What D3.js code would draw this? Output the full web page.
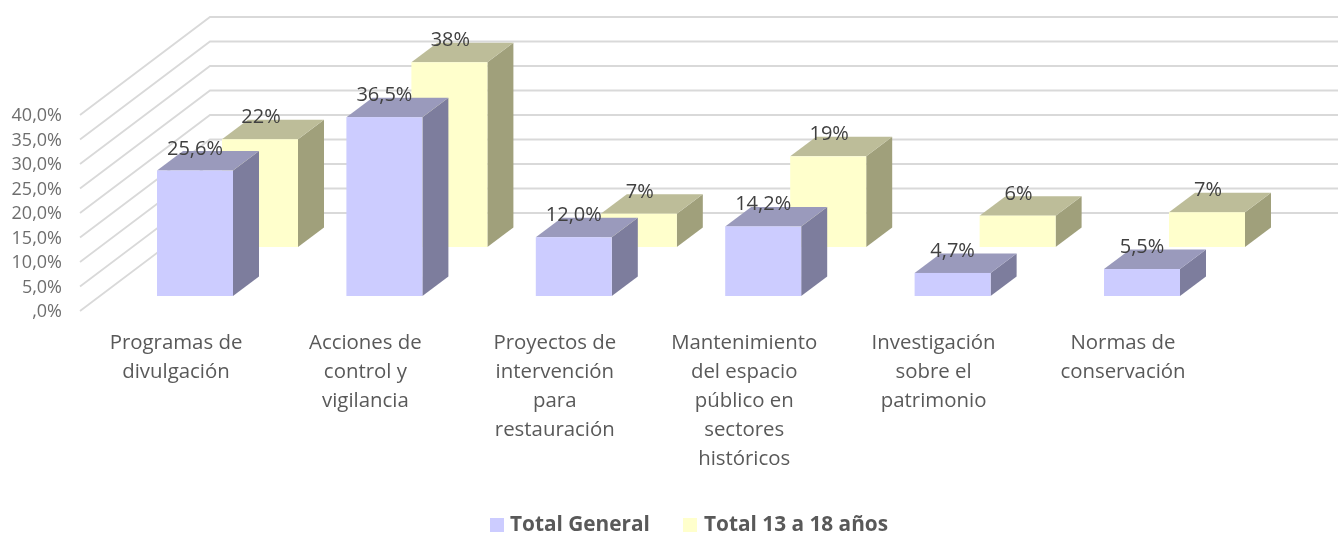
<!DOCTYPE html>
<html><head><meta charset="utf-8">
<script src="https://cdn.jsdelivr.net/npm/d3@7/dist/d3.min.js"></script>
<style>html,body{margin:0;padding:0;background:#fff;overflow:hidden}svg{display:block;filter:blur(0.4px)}text{font-family:"Open Sans",sans-serif}</style>
</head><body><div id="c"></div>
<script>
const categories = ["Programas de|divulgación","Acciones de|control y|vigilancia","Proyectos de|intervención|para|restauración","Mantenimiento|del espacio|público en|sectores|históricos","Investigación|sobre el|patrimonio","Normas de|conservación"];
const seriesNames = ["Total General","Total 13 a 18 años"];
const totalGeneral = [25.6,36.5,12.0,14.2,4.7,5.5];
const total13a18 = [22,37.7,6.8,18.5,6.4,7.1];
const yTicks = [0,5,10,15,20,25,30,35,40];

const W=1338,H=534;
const svg=d3.select("#c").append("svg").attr("width",W).attr("height",H);
const y=d3.scaleLinear().domain([0,40]).range([311,115]);
const x=d3.scalePoint().domain(d3.range(categories.length)).range([157,1104]);
const barW=76, dep={x:26,y:-19.5};
const rows=[
 {name:seriesNames[0],vals:totalGeneral,dx:0,dy:-15,lx:0,fmt:v=>d3.format(".1f")(v).replace(".",","),front:"#CCCCFF",top:"#9A9ABC",side:"#7D7D9D"},
 {name:seriesNames[1],vals:total13a18,dx:65,dy:-64,lx:1,fmt:v=>d3.format(".0f")(v),front:"#FFFFCC",top:"#BDBD99",side:"#A0A07B"}
];
const wall={x:130,y:-98};
const grid=svg.append("g").attr("fill","none").attr("stroke","#d9d9d9").attr("stroke-width",1.8);
yTicks.forEach(t=>{
  const p=[[80,y(t)],[80+wall.x,y(t)+wall.y],[W,y(t)+wall.y]];
  grid.append("path").attr("d",d3.line()(p));
});
svg.append("g").selectAll("text").data(yTicks).join("text")
  .attr("x",62).attr("y",t=>y(t)+6).attr("text-anchor","end")
  .attr("font-size",18).attr("fill","#6e6e6e")
  .text(t=>t===0?",0%":d3.format(".1f")(t).replace(".",",")+"%");

const bars=svg.append("g");
[rows[1],rows[0]].forEach(s=>{
  s.vals.forEach((v,i)=>{
    const x0=x(i)+s.dx, x1=x0+barW, yb=y(0)+s.dy, yt=y(v)+s.dy, l=d3.line();
    const g=bars.append("g");
    g.append("path").attr("fill",s.side).attr("d",l([[x1,yt],[x1+dep.x,yt+dep.y],[x1+dep.x,yb+dep.y],[x1,yb]])+"Z");
    g.append("path").attr("fill",s.top).attr("d",l([[x0,yt],[x0+dep.x,yt+dep.y],[x1+dep.x,yt+dep.y],[x1,yt]])+"Z");
    g.append("rect").attr("x",x0).attr("y",yt).attr("width",barW).attr("height",yb-yt).attr("fill",s.front);
  });
});
const labels=svg.append("g");
[rows[1],rows[0]].forEach(s=>{
  s.vals.forEach((v,i)=>{
    labels.append("text").attr("x",x(i)+s.dx+barW/2+s.lx).attr("y",y(v)+s.dy-16)
      .attr("text-anchor","middle").attr("font-size",20).attr("fill","#404040").text(s.fmt(v)+"%");
  });
});
const cat=svg.append("g");
categories.forEach((c,i)=>{
  const cx=x(i)+barW/2-19;
  c.split("|").forEach((ln,k)=>{
    cat.append("text").attr("x",cx).attr("y",348.5+k*29).attr("text-anchor","middle")
      .attr("font-size",20.4).attr("fill","#595959").text(ln);
  });
});
const leg=[{sx:490,tx:510},{sx:683,tx:704}];
rows.forEach((s,i)=>{
  svg.append("rect").attr("x",leg[i].sx).attr("y",518).attr("width",14).attr("height",14).attr("fill",s.front);
  svg.append("text").attr("x",leg[i].tx).attr("y",531).attr("font-size",20.8).attr("font-weight",700).attr("fill","#595959").text(s.name);
});
</script></body></html>
